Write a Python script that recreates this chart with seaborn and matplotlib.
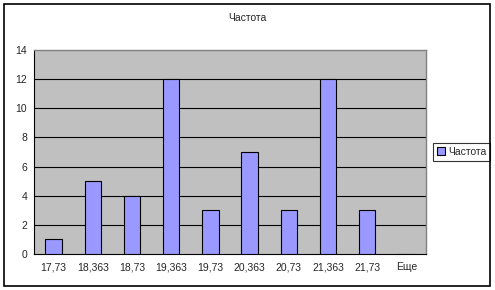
import matplotlib
matplotlib.use("Agg")
import matplotlib.pyplot as plt
import seaborn as sns
import numpy as np
from matplotlib.patches import Rectangle

categories = ["17,73", "18,363", "18,73", "19,363", "19,73", "20,363", "20,73", "21,363", "21,73", "Еще"]
values = [1, 5, 4, 12, 3, 7, 3, 12, 3, 0]
yticks = [0, 2, 4, 6, 8, 10, 12, 14]

sns.set_style("white")
plt.rcParams['font.family'] = ['Liberation Sans', 'DejaVu Sans']

fig = plt.figure(figsize=(4.95, 2.9), dpi=100)
ax = fig.add_axes([34/495, 1-254/290, (426-34)/495, (254-50)/290])
ax.set_facecolor('#c0c0c0')

sns.barplot(x=categories, y=values, color='#9999ff', edgecolor='black',
            linewidth=0.8, width=0.42, saturation=1, ax=ax, label='Частота', zorder=3)

ax.set_ylim(0, 14)
ax.set_xlim(-0.5, 9.5)
ax.set_yticks(yticks)
ax.set_yticklabels([str(v) for v in yticks], fontsize=7.5)
for v in yticks[1:-1]:
    ax.axhline(v, color='black', linewidth=0.8, zorder=1)
ax.set_xticks(range(len(categories)))
ax.set_xticklabels(categories, fontsize=7.5)
ax.tick_params(axis='x', which='major', length=0, pad=6)
ax.set_xticks(np.arange(-0.5, 10.0, 1.0), minor=True)
ax.tick_params(axis='x', which='minor', length=3, width=0.8, color='black', direction='out')
ax.tick_params(axis='y', which='major', length=3, width=0.8, color='black', direction='out', pad=2)
ax.set_xlabel('')
ax.set_ylabel('')
for s in ['top', 'right']:
    ax.spines[s].set_color('#808080')
    ax.spines[s].set_linewidth(1)
for s in ['left', 'bottom']:
    ax.spines[s].set_color('black')
    ax.spines[s].set_linewidth(0.8)

fig.text(247/495, 1-18/290, 'Частота', ha='center', va='center', fontsize=7.5)

leg = ax.legend(loc='center left', bbox_to_anchor=(433/495, 1-152/290), bbox_transform=fig.transFigure,
                fontsize=7.5, frameon=True, fancybox=False, edgecolor='black',
                handlelength=0.8, handleheight=0.8, handletextpad=0.3, borderpad=0.35,
                borderaxespad=0)
leg.get_frame().set_linewidth(0.8)

fig.patches.append(Rectangle((4/495, 1-286/290), 486/495, 282/290, transform=fig.transFigure,
                             fill=False, edgecolor='black', linewidth=1.2))

fig.savefig('out.png', dpi=100)
